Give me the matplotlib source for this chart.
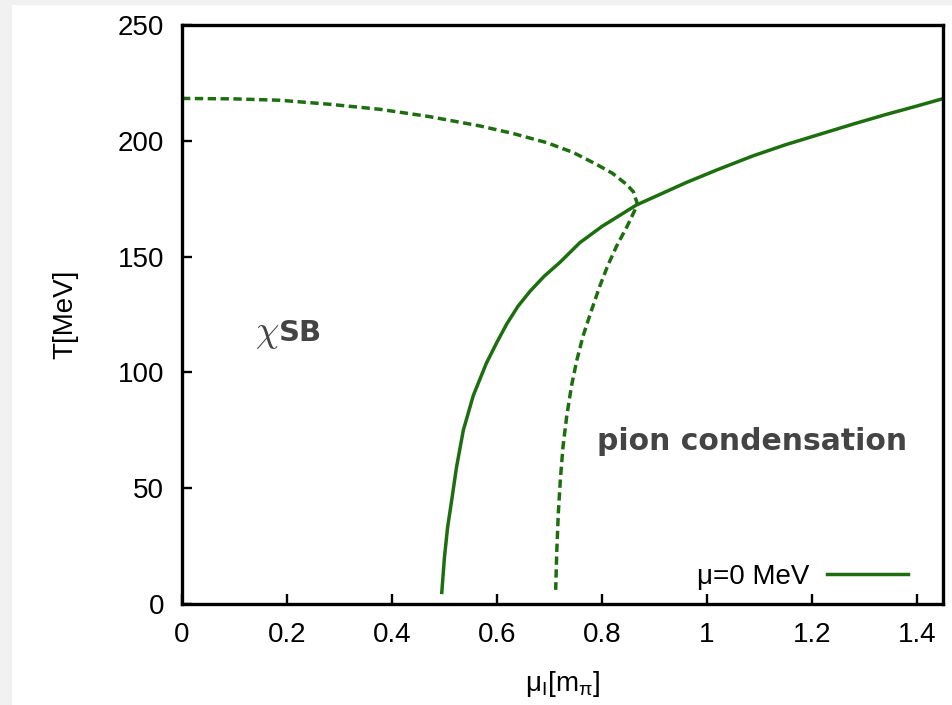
import matplotlib
matplotlib.use("Agg")
import matplotlib.pyplot as plt
from matplotlib.patches import Rectangle

# phase boundary at mu = 0 (solid) : mu_I [m_pi], T [MeV]
solid_mu_I = [0.495, 0.500, 0.506, 0.514, 0.523, 0.536, 0.555, 0.580, 0.600,
              0.619, 0.640, 0.663, 0.690, 0.720, 0.758, 0.800, 0.866, 0.961,
              1.020, 1.088, 1.150, 1.215, 1.280, 1.342, 1.400, 1.447]
solid_T = [5.0, 20.0, 33.0, 45.0, 59.0, 75.0, 90.0, 104.0, 113.0,
           121.0, 128.5, 135.0, 141.5, 147.5, 156.0, 163.0, 172.3, 182.0,
           187.5, 193.5, 198.3, 202.8, 207.3, 211.4, 215.0, 218.0]

# second boundary (dashed)
dashed_mu_I = [0.0, 0.100, 0.187, 0.280, 0.377, 0.470, 0.568, 0.630, 0.695,
               0.745, 0.790, 0.820, 0.847, 0.860, 0.868, 0.848, 0.828, 0.811,
               0.796, 0.779, 0.764, 0.752, 0.742, 0.733, 0.726, 0.721, 0.717,
               0.714, 0.712]
dashed_T = [218.3, 218.1, 217.5, 215.8, 213.6, 210.5, 206.4, 203.2, 199.2,
            195.0, 189.8, 186.0, 181.2, 178.0, 172.5, 163.0, 154.5, 146.0,
            137.2, 126.0, 115.6, 105.0, 94.0, 81.0, 68.0, 54.0, 39.2,
            22.0, 6.1]

x_ticks = [0, 0.2, 0.4, 0.6, 0.8, 1.0, 1.2, 1.4]
x_ticklabels = ["0", "0.2", "0.4", "0.6", "0.8", "1", "1.2", "1.4"]
y_ticks = [0, 50, 100, 150, 200, 250]

green = "#1d6e0f"
plt.rcParams["font.family"] = ["Liberation Sans", "DejaVu Sans"]
plt.rcParams["mathtext.fontset"] = "custom"
plt.rcParams["mathtext.rm"] = "Liberation Sans"
plt.rcParams["mathtext.it"] = "Liberation Sans:italic"

fig = plt.figure(figsize=(9.53, 7.05), dpi=100, facecolor="#f1f1f1")
# white sheet behind the plot
fig.patches.append(Rectangle((12 / 953, 0), 1, 1 - 5 / 705, transform=fig.transFigure,
                             facecolor="white", edgecolor="none", zorder=-1))
ax = fig.add_axes([182 / 953, 1 - 604 / 705, 761 / 953, 579 / 705])
ax.set_facecolor("white")

ax.plot(dashed_mu_I, dashed_T, color=green, lw=2.5, dashes=(2.4, 1.3))
ax.plot(solid_mu_I, solid_T, color=green, lw=2.5, label="μ=0 MeV")

ax.set_xlim(0, 1.45)
ax.set_ylim(0, 250)
ax.set_xticks(x_ticks)
ax.set_xticklabels(x_ticklabels)
ax.set_yticks(y_ticks)
ax.tick_params(direction="in", length=7.5, width=1.7, labelsize=20, pad=13,
               top=False, right=False)
for s in ax.spines.values():
    s.set_linewidth(2.4)

ax.set_xlabel(r"$\mathrm{\mu_I[m_\pi]}$", fontsize=20, labelpad=15)
ax.set_ylabel("T[MeV]", fontsize=20, labelpad=28)

ax.text(0.139, 117, r"$\chi$", fontsize=27, color="#444444", va="center",
        math_fontfamily="cm")
ax.text(0.184, 117, "SB", fontsize=21, color="#444444", va="center",
        fontweight="bold", family="DejaVu Sans")
ax.text(0.79, 70, "pion condensation", fontsize=21.5, color="#444444", va="center",
        fontweight="bold", family="DejaVu Sans")

ax.legend(loc="center right", bbox_to_anchor=(0.954, 0.047), frameon=False,
          markerfirst=False, fontsize=20, handlelength=2.9, handletextpad=0.65,
          borderpad=0, borderaxespad=0)

fig.savefig("out.png", dpi=100, facecolor=fig.get_facecolor())
